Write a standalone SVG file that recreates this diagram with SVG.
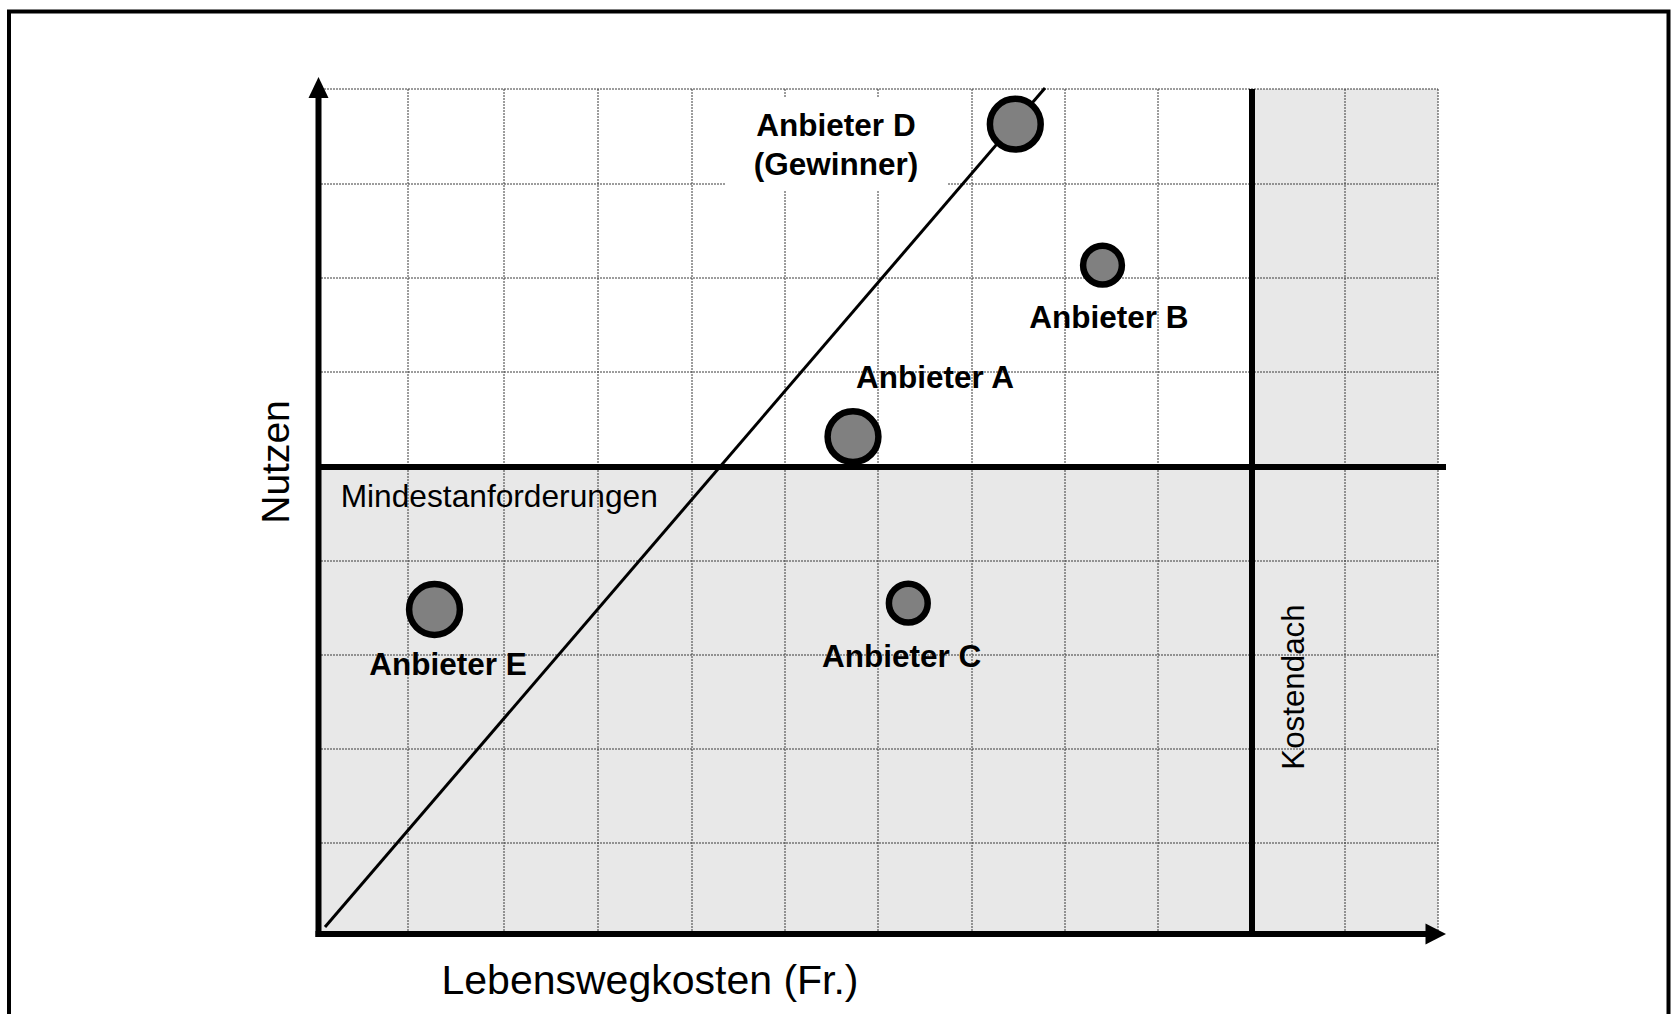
<svg xmlns="http://www.w3.org/2000/svg" width="1671" height="1014" viewBox="0 0 1671 1014">
  <style>
    .grid { stroke: #3a3a3a; stroke-width: 1; stroke-dasharray: 2 1; fill: none; }
    .thick { stroke: #000; stroke-width: 6; fill: none; }
    .shade { fill: #e8e8e8; }
    .dot { fill: #808080; stroke: #000; stroke-width: 6.5; }
    .lbl { font-family: "Liberation Sans", Arial, sans-serif; font-size: 31.5px; font-weight: bold; fill: #000; }
    .txt { font-family: "Liberation Sans", Arial, sans-serif; fill: #000; }
  </style>
  <rect x="0" y="0" width="1671" height="1014" fill="#fff"/>
  <rect x="9" y="11.5" width="1659.5" height="1100" fill="none" stroke="#000" stroke-width="4"/>

  <g id="background">
    <rect class="shade" x="318" y="467" width="1120" height="467"/>
    <rect class="shade" x="1252" y="89" width="186" height="378"/>
  </g>

  <g id="grid">
    <path class="grid" d="M318 89H1438 M318 184H1438 M318 278H1438 M318 372H1438 M318 561H1438 M318 655H1438 M318 749H1438 M318 843H1438"/>
    <path class="grid" d="M408 89V934 M504 89V934 M598 89V934 M692 89V934 M785 89V934 M878 89V934 M972 89V934 M1065 89V934 M1158 89V934 M1345 89V934 M1438 89V934"/>
  </g>

  <g id="label-box-d">
    <rect x="726" y="98" width="221" height="93" fill="#fff"/>
  </g>

  <g id="connectors">
    <line id="diagonal" x1="325" y1="927" x2="1045" y2="88" stroke="#000" stroke-width="3"/>
    <line id="mindestanforderungen-line" class="thick" x1="318" y1="467" x2="1446" y2="467"/>
    <line id="kostendach-line" class="thick" x1="1252" y1="89" x2="1252" y2="934"/>
    <g id="y-axis">
      <line class="thick" x1="318.5" y1="937" x2="318.5" y2="95"/>
      <polygon points="318.5,77 308.5,98 328.5,98" fill="#000"/>
    </g>
    <g id="x-axis">
      <line class="thick" x1="315.5" y1="934" x2="1428" y2="934"/>
      <polygon points="1446,934 1425.5,923.5 1425.5,944.5" fill="#000"/>
    </g>
  </g>

  <g id="axis-labels">
    <text class="txt" font-size="39" transform="translate(289,462) rotate(-90)" text-anchor="middle">Nutzen</text>
    <text class="txt" font-size="41" x="650" y="994" text-anchor="middle">Lebenswegkosten (Fr.)</text>
    <text class="txt" font-size="31.7" x="340.7" y="506.7">Mindestanforderungen</text>
    <text class="txt" font-size="31.3" transform="translate(1304,687) rotate(-90)" text-anchor="middle">Kostendach</text>
  </g>

  <g id="anbieter-d">
    <circle class="dot" cx="1015.3" cy="124.2" r="25.4"/>
    <text class="lbl" x="836" y="136" text-anchor="middle">Anbieter D</text>
    <text class="lbl" x="836" y="175" text-anchor="middle">(Gewinner)</text>
  </g>
  <g id="anbieter-b">
    <circle class="dot" cx="1102.5" cy="265.2" r="19.4"/>
    <text class="lbl" x="1029.3" y="328.3">Anbieter B</text>
  </g>
  <g id="anbieter-a">
    <circle class="dot" cx="853" cy="436.7" r="25.4"/>
    <text class="lbl" x="856" y="388.3">Anbieter A</text>
  </g>
  <g id="anbieter-e">
    <circle class="dot" cx="434.5" cy="609.5" r="25.4"/>
    <text class="lbl" x="369.3" y="675">Anbieter E</text>
  </g>
  <g id="anbieter-c">
    <circle class="dot" cx="908.3" cy="603.2" r="19.4"/>
    <text class="lbl" x="822" y="667">Anbieter C</text>
  </g>
</svg>
